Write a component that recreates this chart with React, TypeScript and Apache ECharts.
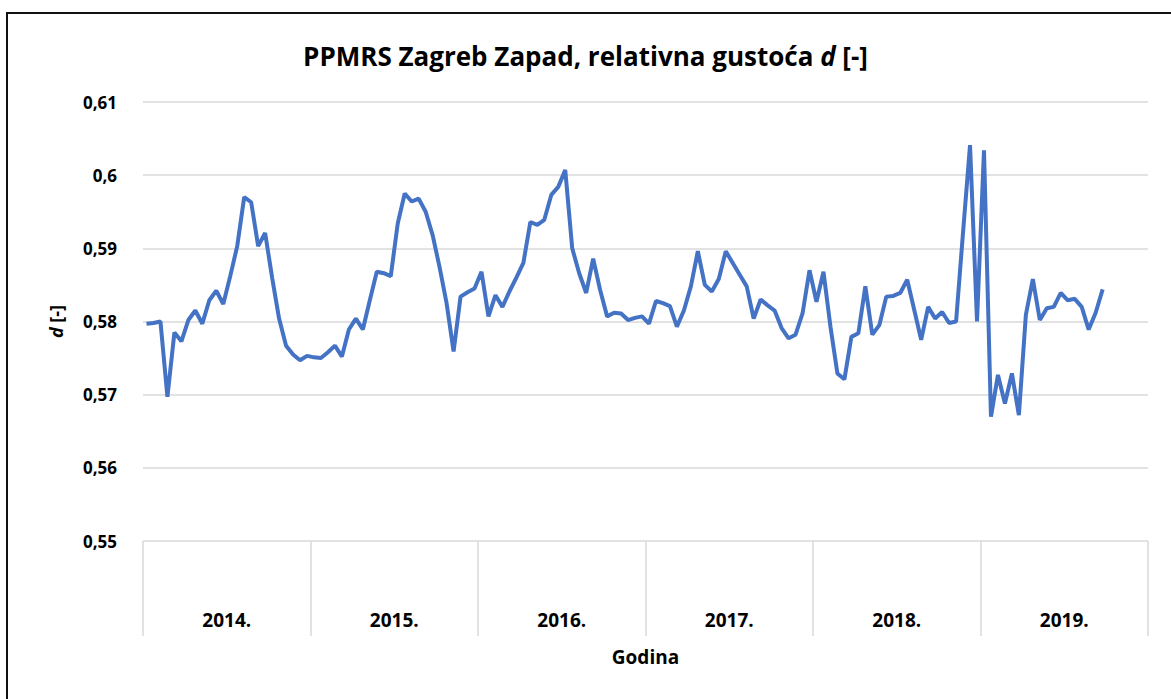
import React, { useEffect, useRef } from "react";
import * as echarts from "echarts";

const years = ["2014.", "2015.", "2016.", "2017.", "2018.", "2019."];
const pointsPerYear = 24;
const yMin = 0.55;
const yMax = 0.61;
const yStep = 0.01;

const d2014 = [0.5797, 0.5798, 0.58, 0.5697, 0.5785, 0.5773, 0.5802, 0.5815, 0.5797, 0.5829, 0.5842, 0.5824, 0.5862, 0.5903, 0.597, 0.5963, 0.5903, 0.5921, 0.586, 0.5804, 0.5767, 0.5755, 0.5747, 0.5753];
const d2015 = [0.5751, 0.575, 0.5758, 0.5767, 0.5752, 0.5789, 0.5804, 0.5789, 0.5829, 0.5868, 0.5866, 0.5862, 0.5934, 0.5975, 0.5964, 0.5968, 0.595, 0.5918, 0.5874, 0.5825, 0.5759, 0.5834, 0.584, 0.5845];
const d2016 = [0.5868, 0.5807, 0.5836, 0.582, 0.5841, 0.586, 0.588, 0.5936, 0.5932, 0.5939, 0.5973, 0.5984, 0.6007, 0.59, 0.5866, 0.5839, 0.5886, 0.5843, 0.5807, 0.5812, 0.5811, 0.5802, 0.5805, 0.5807];
const d2017 = [0.5797, 0.5828, 0.5825, 0.5821, 0.5793, 0.5815, 0.5848, 0.5896, 0.585, 0.5841, 0.5858, 0.5896, 0.588, 0.5864, 0.5848, 0.5804, 0.583, 0.5822, 0.5815, 0.5791, 0.5777, 0.5782, 0.5811, 0.587];
const d2018 = [0.5827, 0.5868, 0.5793, 0.5729, 0.5721, 0.5779, 0.5784, 0.5848, 0.5782, 0.5795, 0.5834, 0.5835, 0.5839, 0.5857, 0.5816, 0.5775, 0.582, 0.5804, 0.5813, 0.5798, 0.58, 0.5922, 0.6041, 0.58];
const d2019 = [0.6034, 0.567, 0.5727, 0.5688, 0.5729, 0.5672, 0.5809, 0.5858, 0.5802, 0.5818, 0.582, 0.5839, 0.5829, 0.5831, 0.582, 0.5789, 0.5812, 0.5844];

const yearData = [d2014, d2015, d2016, d2017, d2018, d2019];

const FONT = "Open Sans";

export default function App() {
  const ref = useRef<HTMLDivElement>(null);
  useEffect(() => {
    document.body.style.margin = "0";
    if (!ref.current) return;
    const chart = echarts.init(ref.current, undefined, { renderer: "svg" });
    const slots: string[] = [];
    years.forEach((y) => {
      for (let k = 0; k < pointsPerYear; k++) slots.push(`${y} ${k + 1}`);
    });
    const values = yearData.flat();
    chart.setOption({
      animation: false,
      backgroundColor: "#ffffff",
      textStyle: { fontFamily: FONT },
      title: {
        text: "PPMRS Zagreb Zapad, relativna gustoća {i|d} [-]",
        left: "center",
        top: 38,
        padding: [5, 5, 5, 18],
        textStyle: {
          fontFamily: FONT,
          fontSize: 26,
          fontWeight: "bold",
          color: "#000",
          rich: {
            i: { fontFamily: FONT, fontSize: 26, fontWeight: "bold", fontStyle: "italic", color: "#000" },
          },
        },
      },
      grid: { left: 143, right: 23, top: 102, bottom: 158, containLabel: false },
      xAxis: [
        {
          type: "category",
          data: slots,
          boundaryGap: true,
          show: false,
        },
        {
          type: "category",
          data: years,
          position: "bottom",
          boundaryGap: true,
          axisLine: { show: false },
          axisTick: { show: true, length: 95, interval: 0, lineStyle: { color: "#d9d9d9", width: 1.5 } },
          axisLabel: { interval: 0, margin: 69, fontFamily: FONT, fontSize: 19, fontWeight: "bold", color: "#000" },
          splitLine: { show: false },
          name: "Godina",
          nameLocation: "middle",
          nameGap: 106,
          nameTextStyle: { fontFamily: FONT, fontSize: 19, fontWeight: "bold", color: "#000" },
        },
      ],
      yAxis: {
        type: "value",
        min: yMin,
        max: yMax,
        interval: yStep,
        axisLine: { show: false },
        axisTick: { show: false },
        axisLabel: {
          margin: 26,
          fontFamily: FONT,
          fontSize: 17,
          fontWeight: "bold",
          color: "#000",
          formatter: (v: number) => String(parseFloat(v.toFixed(2))).replace(".", ","),
        },
        splitLine: { lineStyle: { color: "#d9d9d9", width: 1.5 } },
        name: "{i|d} [-]",
        nameLocation: "middle",
        nameRotate: 90,
        nameGap: 78,
        nameTextStyle: {
          fontFamily: FONT,
          fontSize: 18,
          fontWeight: "bold",
          color: "#000",
          rich: {
            i: { fontFamily: FONT, fontSize: 18, fontWeight: "bold", fontStyle: "italic", color: "#000" },
          },
        },
      },
      series: [
        {
          type: "line",
          xAxisIndex: 0,
          data: values,
          symbol: "none",
          lineStyle: { color: "#4472c4", width: 4 },
          itemStyle: { color: "#4472c4" },
        },
      ],
      graphic: [
        { type: "line", shape: { x1: 6, y1: 13, x2: 1171, y2: 13 }, style: { stroke: "#111", lineWidth: 2 } },
        { type: "line", shape: { x1: 7, y1: 12, x2: 7, y2: 699 }, style: { stroke: "#111", lineWidth: 2 } },
      ],
    });
    return () => chart.dispose();
  }, []);
  return <div ref={ref} style={{ width: 1171, height: 699 }} />;
}
